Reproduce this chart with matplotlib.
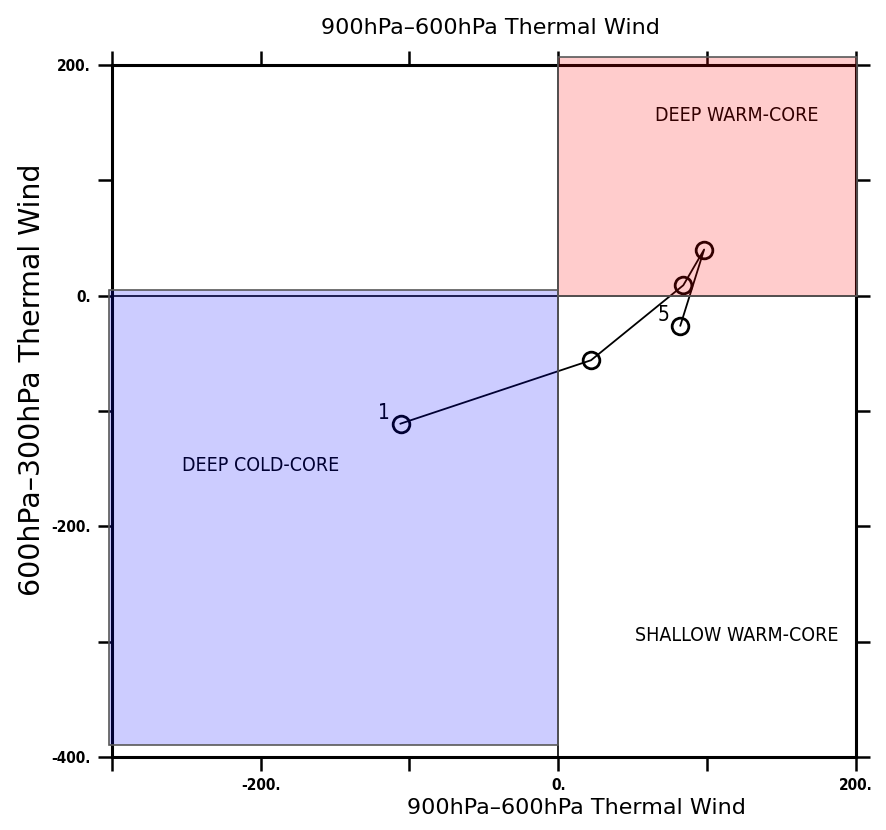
import matplotlib
matplotlib.use('Agg')
import matplotlib.pyplot as plt
from matplotlib.patches import Rectangle

# Trayectoria en el diagrama de fases (viento termico)
vlo = [-106, 22, 84, 98, 82]      # 900hPa-600hPa
vup = [-111, -56, 9, 40, -26]     # 600hPa-300hPa
point_labels = ['1', '', '', '', '5']

xticks = [-200, 0, 200]
xlabels = ['-200.', '0.', '200.']
xminor = [-300, -100, 100]
yticks = [-400, -200, 0, 200]
ylabels = ['-400.', '-200.', '0.', '200.']
yminor = [-300, -100, 100]

# regiones: (x0, y0, ancho, alto)
cold_box = (-302, -390, 302, 395)
warm_box = (0, 0, 201, 207)

fig = plt.figure(figsize=(8.87, 8.30), dpi=100)
ax = fig.add_axes([0.126, 0.088, 0.839, 0.8337])
ax.set_xlim(-300, 200)
ax.set_ylim(-400, 200)

ax.axhline(0, color='black', lw=1.2, zorder=1)
ax.axvline(0, color='black', lw=1.2, zorder=1)

ax.plot(vlo, vup, color='black', lw=1.3, marker='o', markersize=12,
        markerfacecolor='none', markeredgewidth=2, zorder=2)
for x, y, lab in zip(vlo, vup, point_labels):
    if lab:
        ax.text(x - 11, y + 9, lab, fontsize=15, fontstretch='condensed',
                ha='center', va='center', zorder=2)

kw = dict(fontsize=14, fontstretch='condensed', ha='center', va='center', zorder=2)
ax.text(120, 156, 'DEEP WARM-CORE', **kw)
ax.text(-200, -147, 'DEEP COLD-CORE', **kw)
ax.text(120, -295, 'SHALLOW WARM-CORE', **kw)

# cajas sombreadas encima de todo (tinen las lineas)
ax.add_patch(Rectangle(cold_box[:2], cold_box[2], cold_box[3],
                       facecolor=(0, 0, 1, 0.2), edgecolor='0.35', lw=1.2,
                       zorder=3, clip_on=False))
ax.add_patch(Rectangle(warm_box[:2], warm_box[2], warm_box[3],
                       facecolor=(1, 0, 0, 0.2), edgecolor='0.35', lw=1.2,
                       zorder=3, clip_on=False))

for s in ax.spines.values():
    s.set_linewidth(2.2)
ax.set_xticks(xticks)
ax.set_xticklabels(xlabels)
ax.set_xticks(xminor, minor=True)
ax.set_yticks(yticks)
ax.set_yticklabels(ylabels)
ax.set_yticks(yminor, minor=True)
ax.tick_params(which='both', direction='out', length=10, width=1.8,
               top=True, right=True, labelsize=11, pad=5)
for lab in ax.get_xticklabels() + ax.get_yticklabels():
    lab.set_fontweight('bold')
    lab.set_fontstretch('condensed')

fig.text(490 / 887, 1 - 28 / 830, '900hPa\u2013600hPa Thermal Wind',
         fontsize=16, ha='center', va='center')
fig.text(576 / 887, 1 - 808 / 830, '900hPa\u2013600hPa Thermal Wind',
         fontsize=16, ha='center', va='center')
fig.text(32 / 887, 1 - 380 / 830, '600hPa\u2013300hPa Thermal Wind',
         fontsize=20.5, ha='center', va='center', rotation=90)

fig.savefig('out.png', dpi=100)
